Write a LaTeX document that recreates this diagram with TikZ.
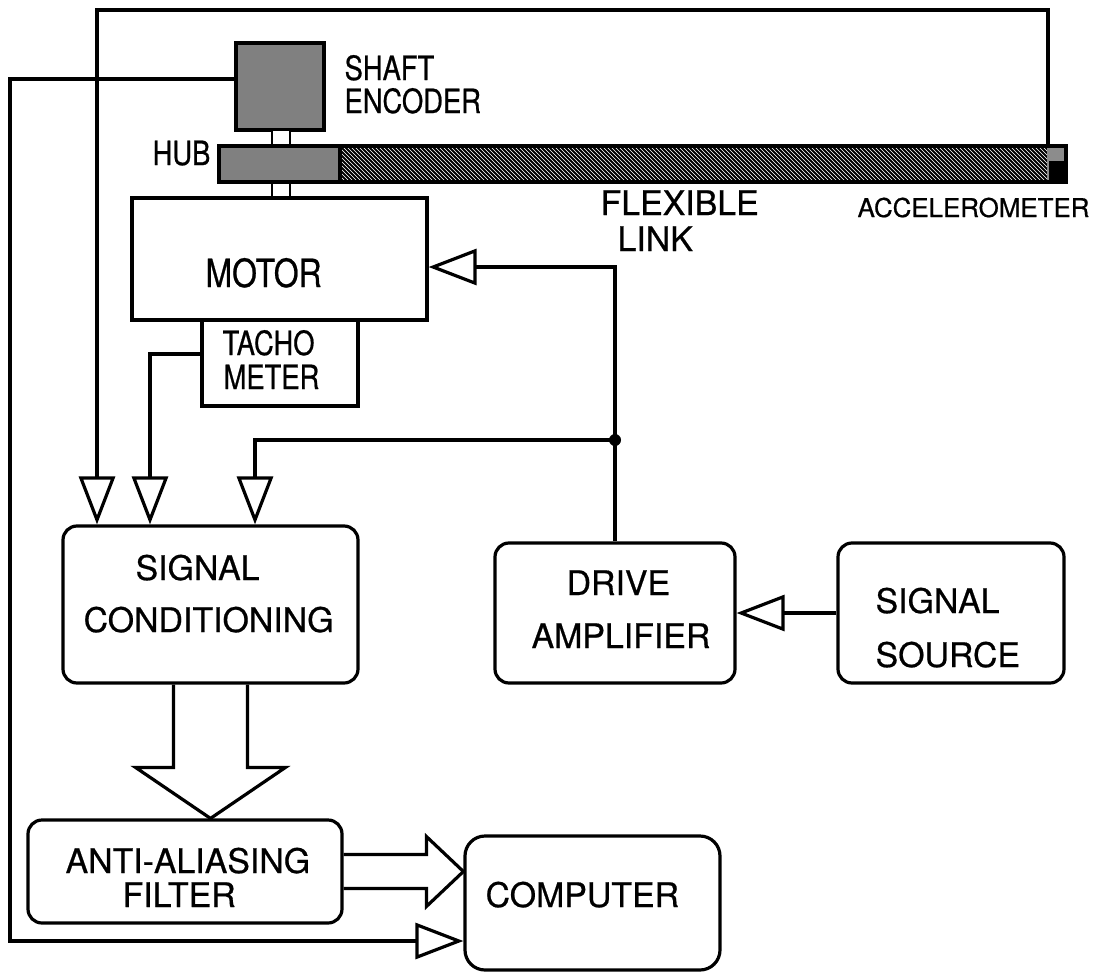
\documentclass[tikz,border=0pt]{standalone}
\usepackage{fontspec}
\setmainfont{TeX Gyre Heros}[FakeBold=0.6]
\newfontfamily\narrowfont{TeX Gyre Heros}[FakeStretch=0.82,FakeBold=0.6]
\usetikzlibrary{arrows.meta,calc}

\begin{document}
\begin{tikzpicture}[x=1bp,y=-1bp,
  line width=3.2bp,
  box/.style={draw, inner sep=0},
  rbox/.style={draw, inner sep=0, rounded corners=14bp},
  sig/.style={-{Triangle[open,length=48bp,width=36bp]}},
  fat/.style={line join=miter},
  lbl/.style={anchor=base west, inner sep=0, font=\fontsize{34}{34}\selectfont},
  nlbl/.style={anchor=base west, inner sep=0, font=\narrowfont\fontsize{33.5}{34}\selectfont}]

\useasboundingbox (0,0) rectangle (1096,973);

% ---- mechanical part: encoder, hub, flexible link, accelerometer
\node[box, fill=black!50, minimum width=88bp, minimum height=87bp] (enc) at (280,86.5) {};
\draw[line width=2.2bp, fill=white] (272,130) rectangle (290,146);
\draw[line width=2.2bp, fill=white] (272,182) rectangle (290,198);

\fill[black!50] (219,146) rectangle (340,182);
\begin{scope}
  \clip (340,146) rectangle (1066,182);
  \foreach \i in {300,304,...,1070}
    \draw[line width=2bp] (\i,146) -- ++(36,36);
\end{scope}
\fill[black!45] (1047,146) rectangle (1066,182);
\fill (1049,161) rectangle (1066,182);
\draw (219,146) rectangle (1066,182);
\draw (340,146) -- (340,182);

% ---- blocks
\node[box, minimum width=295bp, minimum height=122bp] (motor) at (279.5,259) {};
\node[box, minimum width=156bp, minimum height=86bp] (tacho) at (280,363) {};
\node[rbox, minimum width=295bp, minimum height=157bp] (sc) at (210.5,604.5) {};
\node[rbox, minimum width=240bp, minimum height=140bp] (da) at (615,613) {};
\node[rbox, minimum width=226bp, minimum height=140bp] (ss) at (951,613) {};
\node[rbox, minimum width=314bp, minimum height=103bp] (aa) at (185,871.5) {};
\node[rbox, rounded corners=20bp, minimum width=255bp, minimum height=134bp] (comp) at (592.5,903) {};

% ---- labels
\node[nlbl] (tShaft) at (343,80) {SHAFT};
\node[nlbl] (tEnc) at (343,113) {ENCODER};
\node[nlbl] (tHub) at (151,165) {HUB};
\node[nlbl, font=\narrowfont\fontsize{39}{39}\selectfont] (tMotor) at (204,287) {MOTOR};
\node[nlbl] (tTacho) at (221,355) {TACHO};
\node[nlbl] (tMeter) at (222,389) {METER};
\node[lbl] (tFlex) at (599,215) {FLEXIBLE};
\node[lbl] (tLink) at (616,251) {LINK};
\node[lbl, font=\fontsize{26}{26}\selectfont] (tAcc) at (856,217) {ACCELEROMETER};
\node[lbl] (tSigA) at (134,580) {SIGNAL};
\node[lbl] (tCond) at (82,632) {CONDITIONING};
\node[lbl] (tDrive) at (565,595) {DRIVE};
\node[lbl] (tAmp) at (530,648) {AMPLIFIER};
\node[lbl] (tSigB) at (874,613) {SIGNAL};
\node[lbl] (tSrc) at (874,667) {SOURCE};
\node[lbl] (tAnti) at (64,873) {ANTI-ALIASING};
\node[lbl] (tFilt) at (121,907) {FILTER};
\node[lbl] (tComp) at (484,907) {COMPUTER};

% ---- signal paths
\coordinate (accTap) at (1048,146);
\coordinate (topR) at (1048,10);
\coordinate (encTap) at (236,79);
\coordinate (botL) at (10,941);
\coordinate (jy) at (0,440);
\coordinate (junc) at (da.north |- jy);

\draw[sig] (accTap) -- (topR) -| ($(sc.north)+(-113.5,0)$);
\draw[sig] (encTap) -| (botL) -- (comp.west |- botL);
\draw[sig] ([yshift=9bp]tacho.west) -| ($(sc.north)+(-60.5,0)$);
\draw (da.north) -- (junc);
\draw[sig] (junc) |- ([yshift=-8bp]motor.east);
\draw[sig] (junc) -| ($(sc.north)+(44.5,0)$);
\fill (junc) circle[radius=6bp];
\draw[sig] (ss.west) -- (da.east);

% ---- wide arrows (parallel buses)
\coordinate (bigtip) at (sc.south |- aa.north);
\draw[fat] ($(sc.south)+(-37,0)$) -- ($(bigtip)+(-37,-51)$) -- ($(bigtip)+(-75,-51)$)
  -- (bigtip) -- ($(bigtip)+(75,-51)$) -- ($(bigtip)+(37,-51)$) -- ($(sc.south)+(37,0)$);
\coordinate (fattip) at (aa.east -| comp.west);
\draw[fat] ($(aa.east)+(0,-17)$) -- ($(fattip)+(-37,-17)$) -- ($(fattip)+(-37,-35)$)
  -- (fattip) -- ($(fattip)+(-37,35)$) -- ($(fattip)+(-37,17)$) -- ($(aa.east)+(0,17)$);
\end{tikzpicture}
\end{document}
